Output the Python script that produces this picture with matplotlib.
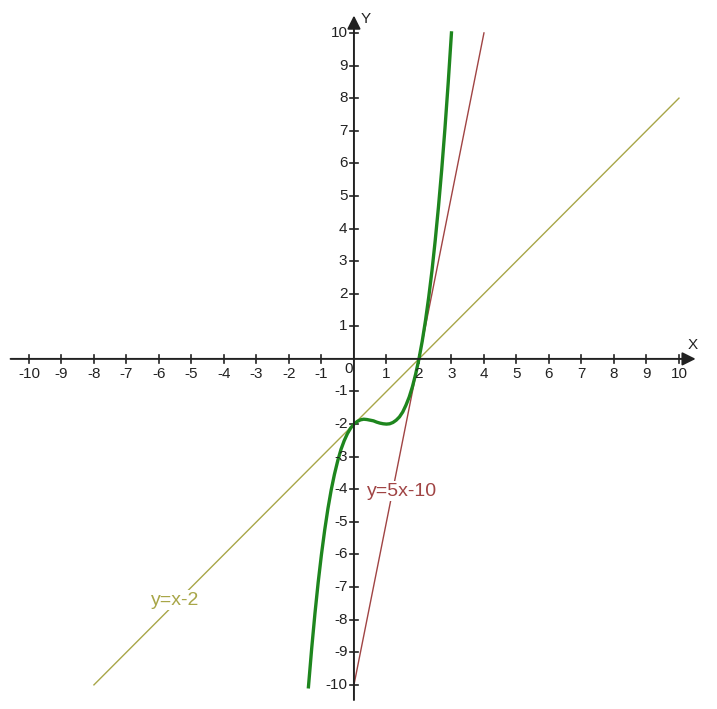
import matplotlib.pyplot as plt
import numpy as np

plt.rcParams["font.family"] = ["Liberation Sans", "DejaVu Sans"]

# curve y = x^3 - 2x^2 + x - 2
curve_x = [-1.4, -1.3, -1.2, -1.1, -1.0, -0.9, -0.8, -0.7, -0.6, -0.5, -0.4, -0.3,
           -0.2, -0.1, 0.0, 0.1, 0.2, 0.3, 0.4, 0.5, 0.6, 0.7, 0.8, 0.9, 1.0, 1.1,
           1.2, 1.3, 1.4, 1.5, 1.6, 1.7, 1.8, 1.9, 2.0, 2.1, 2.2, 2.3, 2.4, 2.5,
           2.6, 2.7, 2.8, 2.9, 3.0]
curve_y = [-10.06, -8.88, -7.81, -6.85, -6.0, -5.25, -4.59, -4.02, -3.54, -3.13,
           -2.78, -2.51, -2.29, -2.12, -2.0, -1.92, -1.87, -1.85, -1.86, -1.88,
           -1.90, -1.94, -1.97, -1.99, -2.0, -1.99, -1.95, -1.88, -1.78, -1.63,
           -1.42, -1.17, -0.85, -0.46, 0.0, 0.54, 1.17, 1.89, 2.70, 3.63, 4.66,
           5.80, 7.07, 8.47, 10.0]

# straight lines (end points)
tangent_x = [0, 4]
tangent_y = [-10, 10]
line_x = [-8, 10]
line_y = [-10, 8]

ticks = [t for t in range(-10, 11) if t != 0]

green = "#1e861e"
red = "#a04444"
olive = "#a8a648"

fig = plt.figure(figsize=(7.17, 7.09), dpi=100)
ax = fig.add_axes([0, 0, 1, 1])
ax.set_xlim(-10.89, 11.17)
ax.set_ylim(-10.74, 11.01)
ax.axis("off")

# axes with arrows
ax.annotate("", xy=(10.6, 0), xytext=(-10.65, 0),
            arrowprops=dict(arrowstyle="-|>", mutation_scale=20, lw=1.4, color="#222222"))
ax.annotate("", xy=(0, 10.62), xytext=(0, -10.55),
            arrowprops=dict(arrowstyle="-|>", mutation_scale=20, lw=1.4, color="#222222"))

for t in ticks:
    ax.plot([t, t], [-0.12, 0.12], color="#222222", lw=1.2)
    ax.plot([-0.12, 0.12], [t, t], color="#222222", lw=1.2)
    ax.text(t, -0.47, str(t), ha="center", va="center", fontsize=11, color="#222222")
    ax.text(-0.2, t, str(t), ha="right", va="center", fontsize=11, color="#222222")
ax.text(-0.15, -0.3, "0", ha="center", va="center", fontsize=11, color="#222222")
ax.text(10.43, 0.43, "X", ha="center", va="center", fontsize=11, color="#222222")
ax.text(0.37, 10.42, "Y", ha="center", va="center", fontsize=11, color="#222222")

ax.plot(line_x, line_y, color=olive, lw=1.0)
ax.plot(tangent_x, tangent_y, color=red, lw=1.0)
ax.plot(curve_x, curve_y, color=green, lw=2.4)

ax.text(0.4, -4.06, "y=5x-10", ha="left", va="center", fontsize=14, color=red,
        bbox=dict(facecolor="white", edgecolor="none", pad=1))
ax.text(-6.25, -7.4, "y=x-2", ha="left", va="center", fontsize=14, color=olive,
        bbox=dict(facecolor="white", edgecolor="none", pad=1))

fig.savefig("out.png", dpi=100)
